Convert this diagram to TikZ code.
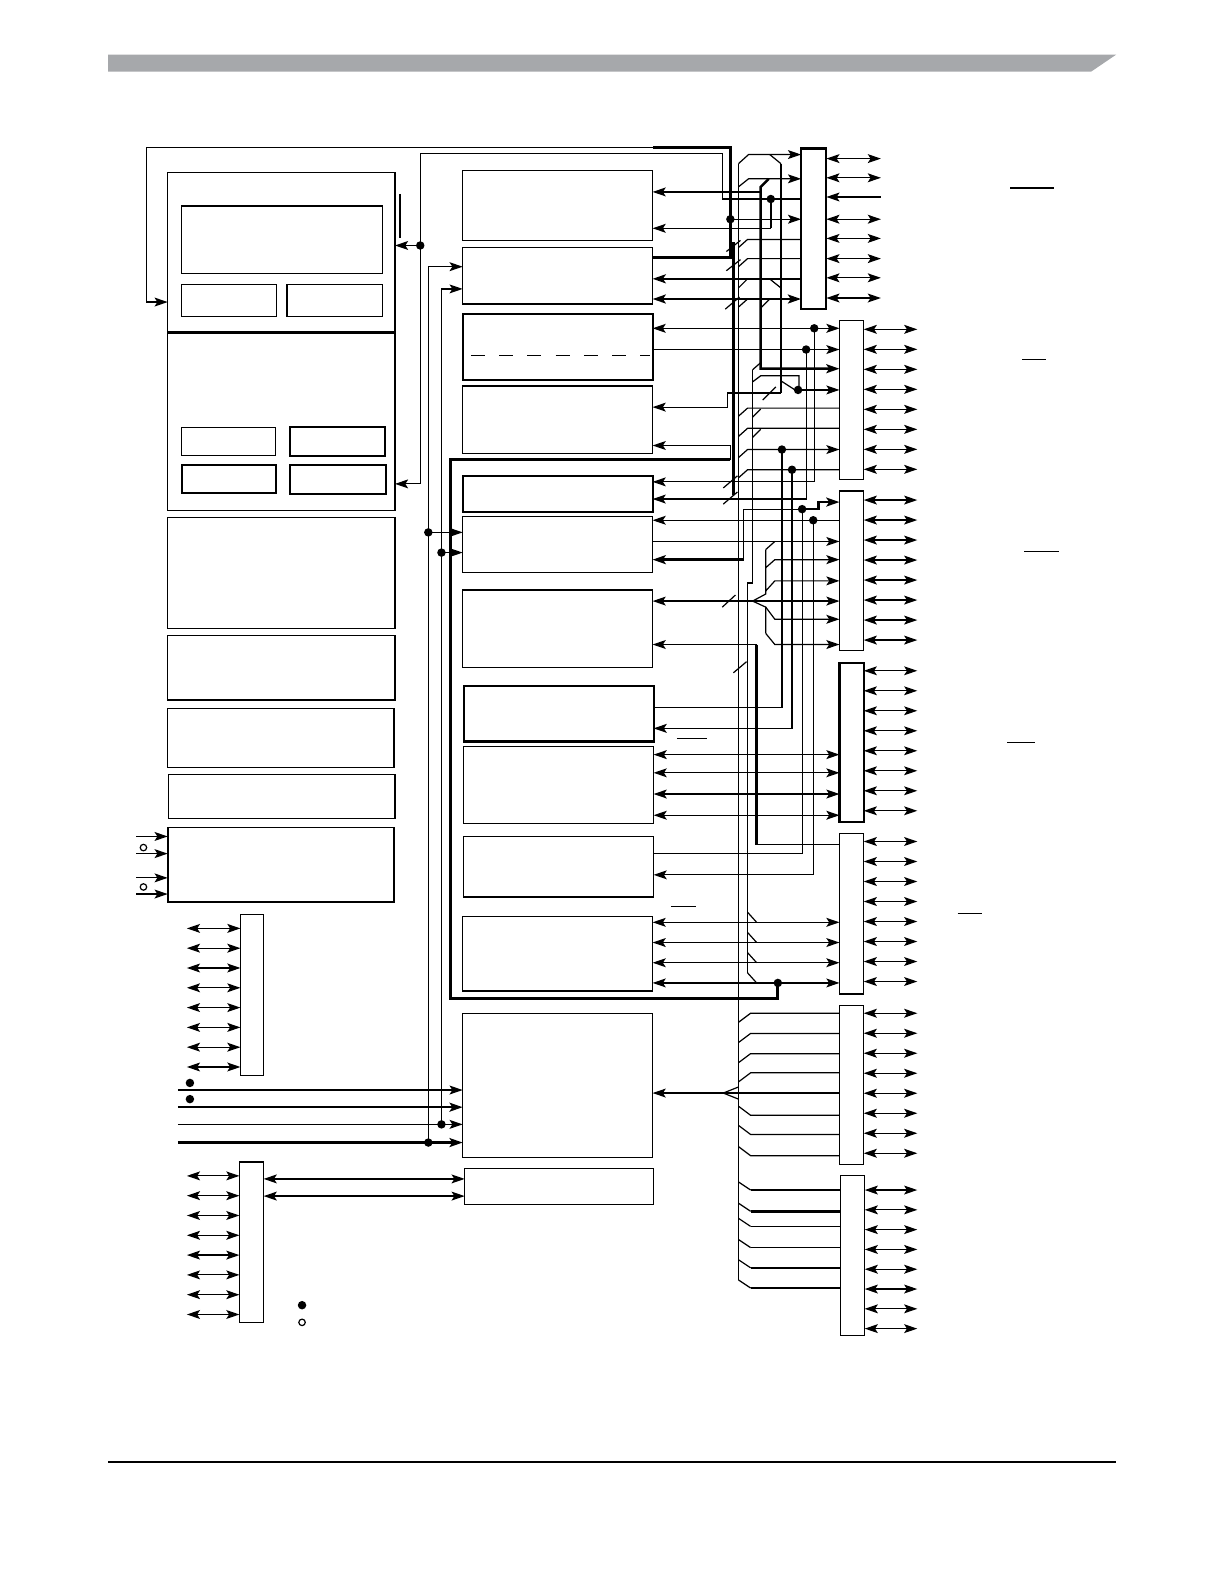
\documentclass[tikz,border=0pt]{standalone}
\usetikzlibrary{arrows.meta,fit}
\definecolor{hdr}{RGB}{166,168,171}
\tikzset{
  ln/.style={line width=0.6pt},
  tk/.style={line width=1.25pt},
  >={Stealth[length=6.5pt,width=4.4pt,inset=1.4pt]},
  blk/.style={draw,line width=0.6pt,inner sep=0pt,outer sep=0pt},
  tblk/.style={blk,line width=1.0pt},
  dot/.style={circle,fill,inner sep=0pt,minimum size=4.2pt},
  odot/.style={circle,draw,fill=white,inner sep=0pt,minimum size=3.2pt,line width=0.6pt},
}
\begin{document}
\begin{tikzpicture}[x=0.5pt,y=-0.5pt,ln,line join=miter]
\useasboundingbox (0,0) rectangle (1212,1568);
% header / footer
\fill[hdr] (107,54) -- (1105,54) -- (1080,71) -- (107,71) -- cycle;
\draw[line width=0.8pt] (107,1447) -- (1105,1447);

% ---------------- left column ----------------
\node[blk,fit={(166,171)(391,505)}] (a) {};
\draw[tk] (a.west|-0,329) -- (a.east|-0,329);
\node[blk,fit={(180,204)(379,271)}] (a1) {};
\node[blk,fit={(180,282)(274,313)}] (a2) {};
\node[blk,fit={(284,282)(379,313)}] (a3) {};
\node[blk,fit={(180,423)(273,451)}] (a4) {};
\node[tblk,fit={(287,423)(381,451)}] (a5) {};
\node[blk,line width=0.8pt,fit={(180,460)(273,488)}] (a6) {};
\node[blk,line width=0.8pt,fit={(287,460)(382,489)}] (a7) {};
\node[blk,fit={(166,512)(391,622)}] (b) {};
\node[blk,fit={(166,629)(391,693)}] (c) {};
\node[blk,fit={(166,701)(390,760)}] (d) {};
\node[blk,fit={(167,767)(391,810)}] (e) {};
\node[blk,line width=0.8pt,fit={(166,819)(390,893)}] (f) {};
\foreach \y in {828,845,869,885} \draw[->] (135,\y) -- (f.west|-0,\y);
\node[odot] (o1) at (142,839) {};
\node[odot] (o2) at (142,878) {};

\node[blk,fit={(238,905)(261,1065)}] (g) {};
\foreach \i in {0,...,7} \draw[<->] (185,919+19.6*\i) -- (g.west|-0,919+19.6*\i);
\node[dot] (q1) at (188,1072) {};
\node[dot] (q2) at (188,1088) {};

\node[blk,fit={(458,1003)(646,1146)}] (h) {};
\node[blk,fit={(460,1157)(647,1192)}] (i) {};
\node[blk,line width=0.8pt,fit={(237,1150)(261,1309)}] (j) {};
\foreach \i in {0,...,7} \draw[<->] (185,1164+19.6*\i) -- (j.west|-0,1164+19.6*\i);
\draw[<->] (j.east|-0,1167) -- (i.west|-0,1167);
\draw[<->] (j.east|-0,1184) -- (i.west|-0,1184);
\node[dot] (lg1) at (299,1292) {};
\node[odot] (lg2) at (299,1309) {};

% inputs to h
\draw[->] (176,1079) -- (h.west|-0,1079);
\draw[->,tk] (176,1096) -- (h.west|-0,1096);
\draw[->] (176,1113) -- (h.west|-0,1113);
\draw[->,tk] (176,1131) -- (h.west|-0,1131);

% ---------------- middle column ----------------
\node[blk,fit={(458,169)(646,238)}] (m1) {};
\node[blk,fit={(458,245)(646,301)}] (m2) {};
\node[tblk,fit={(458,311)(646,376)}] (m3) {};
\draw[dash pattern=on 7pt off 7pt] (466,352) -- (643,352);
\node[blk,fit={(458,382)(646,449)}] (m4) {};
\node[tblk,fit={(458,471)(646,507)}] (m5) {};
\node[blk,fit={(458,511)(646,567)}] (m6) {};
\node[blk,fit={(458,584)(646,661)}] (m7) {};
\node[tblk,fit={(459,679)(647,734)}] (m8) {};
\node[blk,fit={(459,739)(647,815)}] (m9) {};
\node[blk,line width=0.8pt,fit={(459,828)(647,888)}] (m10) {};
\node[blk,fit={(458,907)(646,981)}] (m11) {};
% enclosure
\draw[line width=1.4pt] (723,455) -- (446,455) -- (446,988) -- (770,988) -- (770,973);

% ---------------- right connectors ----------------
\node[tblk,fit={(793,147)(818,306)}] (p1) {};
\node[blk,fit={(831,317)(855,475)}] (p2) {};
\node[blk,fit={(831,486)(855,644)}] (p3) {};
\node[tblk,fit={(831,656)(855,814)}] (p4) {};
\node[blk,fit={(831,825)(855,984)}] (p5) {};
\node[blk,fit={(831,995)(855,1153)}] (p6) {};
\node[blk,fit={(832,1164)(856,1322)}] (p7) {};
\foreach \y in {157,176,217,236,256,275,295} \draw[<->] (p1.east|-0,\y) -- (872,\y);
\draw[->] (872,195) -- (p1.east|-0,195);
\foreach \i in {0,...,7} {
  \draw[<->] (p2.east|-0,326+19.8*\i) -- (908,326+19.8*\i);
  \draw[<->] (p3.east|-0,495+19.8*\i) -- (908,495+19.8*\i);
  \draw[<->] (p4.east|-0,664+19.8*\i) -- (908,664+19.8*\i);
  \draw[<->] (p5.east|-0,833+19.8*\i) -- (908,833+19.8*\i);
  \draw[<->] (p6.east|-0,1003+19.8*\i) -- (908,1003+19.8*\i);
  \draw[<->] (p7.east|-0,1178+19.6*\i) -- (908,1178+19.6*\i);
}
% overbars
\draw (1000,186) -- (1043,186);
\draw (1012,356) -- (1035,356);
\draw (1014,546) -- (1048,546);
\draw (997,735) -- (1025,735);
\draw (948,904) -- (972,904);
\draw (670,731) -- (700,731);
\draw (664,897) -- (689,897);

% ---------------- left-side wiring ----------------
% T1 loop
\draw[tk] (m2.east|-0,255) -- (723,255) -- (723,146) -- (646,146);
\draw[->] (646,146) -- (145,146) -- (145,299) -- (a.west|-0,299);
\draw[->] (723,217) -- (p1.west|-0,217);
% T2 loop
\draw[->] (p1.west|-0,197) -- (715,197) -- (715,152) -- (416,152) -- (416,479) -- (a.east|-0,479);
\draw[->] (416,243) -- (a.east|-0,243);
\draw (396,192) -- (396,236);
\draw[tk] (763,197) -- (763,226);
\draw[->] (763,226) -- (m1.east|-0,226);
% feeds to m2 / m6
\draw[->] (424,1131) -- (424,264) -- (m2.west|-0,264);
\draw[->] (437,1113) -- (437,286) -- (m2.west|-0,286);
\draw[->] (424,527) -- (m6.west|-0,527);
\draw[->] (437,547) -- (m6.west|-0,547);

% ---------------- bus region ----------------
\draw (731,162) -- (731,1267);
\draw (773,162) -- (773,389);
\draw[tk] (726,240) -- (726,490);
% P1 entries
\draw[->] (731,162) -- (741,153) -- (p1.west|-0,153);
\draw (762,153) -- (773,162);
\draw[->] (731,185) -- (741,177) -- (p1.west|-0,177);
\draw[->] (753,190) -- (m1.east|-0,190);
\draw[tk,->] (761,177) -- (753,185) -- (753,365) -- (p2.west|-0,365);
\draw (731,245) -- (740,237) -- (p1.west|-0,237);
\draw (731,264) -- (740,256) -- (p1.west|-0,256);
\draw (719,249) -- (733,238);
\draw (719,268) -- (733,257);
\draw[tk,->] (p1.west|-0,276) -- (m2.east|-0,276);
\draw (731,285) -- (740,276);
\draw (763,277) -- (773,285);
\draw[tk,<->] (m2.east|-0,296) -- (p1.west|-0,296);
\draw (731,304) -- (740,296);
\draw (754,304) -- (762,296);
\draw (718,306) -- (732,294);
% P2 entries
\draw[<->] (m3.east|-0,325) -- (p2.west|-0,325);
\draw[->] (806,325) -- (806,477) -- (m5.east|-0,477);
\draw[->] (m3.east|-0,346) -- (p2.west|-0,346);
\draw[->] (798,346) -- (798,494) -- (m5.east|-0,494);
\draw (745,366) -- (753,359);
\draw (745,378) -- (753,372) -- (791,372) -- (791,386);
\draw (773,377) -- (787,386);
\draw[->] (790,386) -- (p2.west|-0,386);
\draw (745,366) -- (745,577) -- (740,577) -- (740,963);
\draw[tk] (720,389) -- (773,389);
\draw[->] (720,389) -- (720,403) -- (m4.east|-0,403);
\draw (755,396) -- (768,383);
\draw[->] (723,455) -- (723,441) -- (m4.east|-0,441);
\draw (731,412) -- (740,404) -- (p2.west|-0,404);
\draw (745,413) -- (753,405);
\draw (731,432) -- (740,424) -- (p2.west|-0,424);
\draw (745,433) -- (753,425);
\draw[->] (731,453) -- (740,445) -- (p2.west|-0,445);
\draw (731,473) -- (740,465) -- (p2.west|-0,465);
\draw (774,445) -- (774,700) -- (m8.east|-0,700);
\draw[->] (784,465) -- (784,721) -- (m8.east|-0,721);
\draw (716,483) -- (730,471);
\draw (716,499) -- (730,487);
% P3 entries
\draw (794,504) -- (736,504) -- (736,554);
\draw[tk,->] (736,554) -- (m6.east|-0,554);
\draw[tk,->] (794,504) -- (810,504) -- (810,497) -- (p3.west|-0,497);
\draw (794,504) -- (794,845) -- (m10.east|-0,845);
\draw[->] (p3.west|-0,515) -- (m6.east|-0,515);
\draw[->] (805,515) -- (805,866) -- (m10.east|-0,866);
\draw[->] (m6.east|-0,536) -- (p3.west|-0,536);
\draw (758,544) -- (767,536);
\draw[->] (758,544) -- (758,562) -- (767,554) -- (p3.west|-0,554);
\draw[->] (758,562) -- (758,585) -- (767,575) -- (p3.west|-0,575);
\draw (758,585) -- (758,588) -- (745,595) -- (758,601) -- (758,627);
\draw[<->] (m7.east|-0,595) -- (p3.west|-0,595);
\draw (715,601) -- (728,589);
\draw[->] (758,601) -- (767,613) -- (p3.west|-0,613);
\draw[->] (758,627) -- (767,638) -- (p3.west|-0,638);
\draw[tk] (749,638) -- (749,836);
\draw[->] (749,638) -- (m7.east|-0,638);
\draw (749,836) -- (p5.west|-0,836);
\draw (726,666) -- (739,655);
% P4 / P5 entries
\foreach \y in {747,765,786,807} \draw[<->] (m9.east|-0,\y) -- (p4.west|-0,\y);
\foreach \y in {913,933,953,973} {
  \draw[<->] (m11.east|-0,\y) -- (p5.west|-0,\y);
  \draw (740,\y-10) -- (749,\y);
}
% P6 / P7 entries
\draw[->] (716,1082) -- (h.east|-0,1082);
\draw (731,1076) -- (716,1082) -- (731,1088);
\draw (716,1082) -- (p6.west|-0,1082);
\foreach \y in {1003,1023,1043,1062} \draw (731,\y+9) -- (743,\y) -- (p6.west|-0,\y);
\foreach \y in {1104,1123,1144} \draw (731,\y-9) -- (743,\y) -- (p6.west|-0,\y);
\foreach \y/\w in {1178/1.25pt,1199/1.25pt,1214/0.6pt,1235/0.6pt,1255/1.25pt,1275/1.25pt}
  {\draw (731,\y-8) -- (743,\y); \draw[line width=\w] (743,\y) -- (p7.west|-0,\y);}

% ---------------- junction dots ----------------
\node[dot] (k1) at (723,217) {};
\node[dot] (k2) at (763,197) {};
\node[dot] (k3) at (416,243) {};
\node[dot] (k4) at (424,527) {};
\node[dot] (k5) at (437,547) {};
\node[dot] (k6) at (437,1113) {};
\node[dot] (k7) at (424,1131) {};
\node[dot] (k8) at (806,325) {};
\node[dot] (k9) at (798,346) {};
\node[dot] (k10) at (790,386) {};
\node[dot] (k11) at (774,445) {};
\node[dot] (k12) at (784,465) {};
\node[dot] (k13) at (794,504) {};
\node[dot] (k14) at (805,515) {};
\node[dot] (k15) at (770,973) {};
\end{tikzpicture}
\end{document}
